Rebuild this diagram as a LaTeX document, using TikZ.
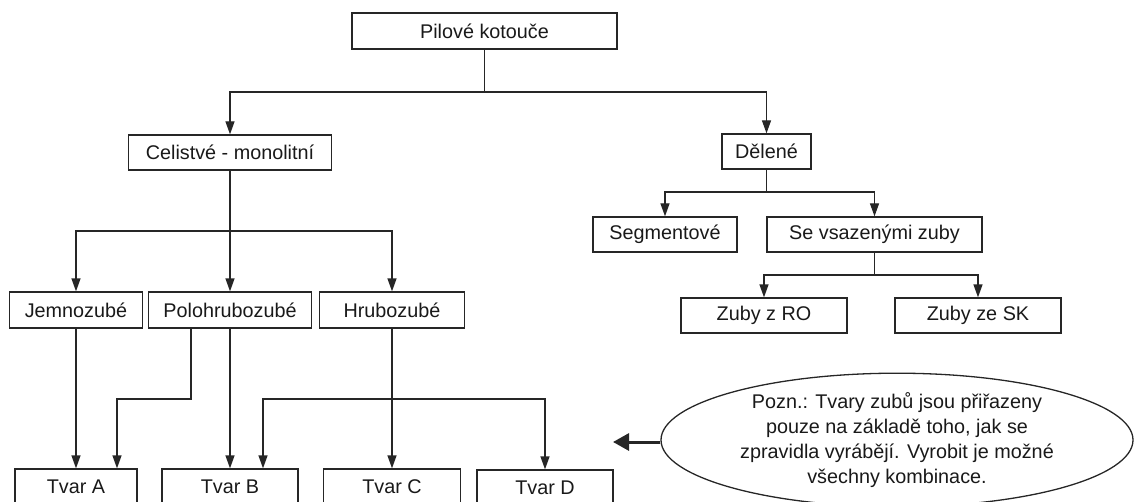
\documentclass[tikz,border=0pt]{standalone}
\usepackage{fontspec}
\setmainfont{Liberation Sans}
\usepackage{tikz}
\usetikzlibrary{positioning,arrows.meta,shapes.geometric}

\begin{document}
\begin{tikzpicture}[x=0.5pt,y=-0.5pt,
  line width=0.65pt,draw=black!85,
  font=\fontsize{9.9}{12.4}\selectfont,
  box/.style={draw,rectangle,inner sep=0pt,minimum height=17.5pt,text=black!90},
  arr/.style={-{Triangle[length=6.5pt,width=4.5pt]}},
  bigarr/.style={line width=1.5pt,-{Triangle[length=8pt,width=8.5pt]}}]
\useasboundingbox (0,0) rectangle (1134,502);

\node (pilove) [box,minimum width=132.5pt,minimum height=18pt] at (484.5,31) {Pilové kotouče};
\node (celistve) [box,minimum width=101.5pt] at (230,152.5) {Celistvé - monolitní};
\node (delene) [box,minimum width=44.5pt] at (766.5,151.5) {Dělené};

\node (jemno) [box,minimum width=66.5pt,minimum height=18pt] at (76,310) {Jemnozubé};
\node (polo) [box,minimum width=81.5pt,minimum height=18pt] at (230,310) {Polohrubozubé};
\node (hrubo) [box,minimum width=72.5pt,minimum height=18pt] at (392,310) {Hrubozubé};

\node (segment) [box,minimum width=72pt] at (665,234.5) {Segmentové};
\node (sevsaz) [box,minimum width=107.5pt] at (874.5,234.5) {Se vsazenými zuby};
\node (zubyro) [box,minimum width=83pt] at (764,315.5) {Zuby z RO};
\node (zubysk) [box,minimum width=83pt] at (978,315.5) {Zuby ze SK};

\node (tvarA) [box,minimum width=61pt,minimum height=18pt] at (76,487) {Tvar A};
\node (tvarB) [box,minimum width=68pt,minimum height=18pt] at (230,487) {Tvar B};
\node (tvarC) [box,minimum width=68.5pt,minimum height=18pt] at (392,487) {Tvar C};
\node (tvarD) [box,minimum width=68pt,minimum height=18pt] at (545,488) {Tvar D};

\node (note) [draw,ellipse,inner sep=0pt,minimum width=236pt,minimum height=64pt,
  align=center,text=black!90] at (897,440)
  {Pozn.: Tvary zubů jsou přiřazeny\\pouze na základě toho, jak se\\zpravidla vyrábějí. Vyrobit je možné\\všechny kombinace.};

\coordinate (f0) at (484.5,92);
\coordinate (f1) at (230,231);
\coordinate (f2) at (766.5,192);
\coordinate (f3) at (874.5,275);
\coordinate (p1) at (191,399);
\coordinate (a2) at (117,399);
\coordinate (h1) at (392,399);
\coordinate (b2) at (263,399);
\coordinate (noteptr) at (613,442);

\draw (pilove) -- (f0);
\draw[arr] (f0) -| (celistve);
\draw[arr] (f0) -| (delene);

\draw (celistve) -- (f1);
\draw[arr] (f1) -| (jemno);
\draw[arr] (f1) -- (polo);
\draw[arr] (f1) -| (hrubo);

\draw (delene) -- (f2);
\draw[arr] (f2) -| (segment);
\draw[arr] (f2) -| (sevsaz);
\draw (sevsaz) -- (f3);
\draw[arr] (f3) -| (zubyro);
\draw[arr] (f3) -| (zubysk);

\draw[arr] (jemno) -- (tvarA);
\draw[arr] (p1 |- polo.south) -- (p1) -- (a2) -- (a2 |- tvarA.north);
\draw[arr] (polo) -- (tvarB);
\draw[arr] (hrubo) -- (tvarC);
\draw[arr] (h1) -- (b2) -- (b2 |- tvarB.north);
\draw[arr] (h1) -| (tvarD);

\draw[bigarr] (note.west |- noteptr) -- (noteptr);
\end{tikzpicture}
\end{document}
